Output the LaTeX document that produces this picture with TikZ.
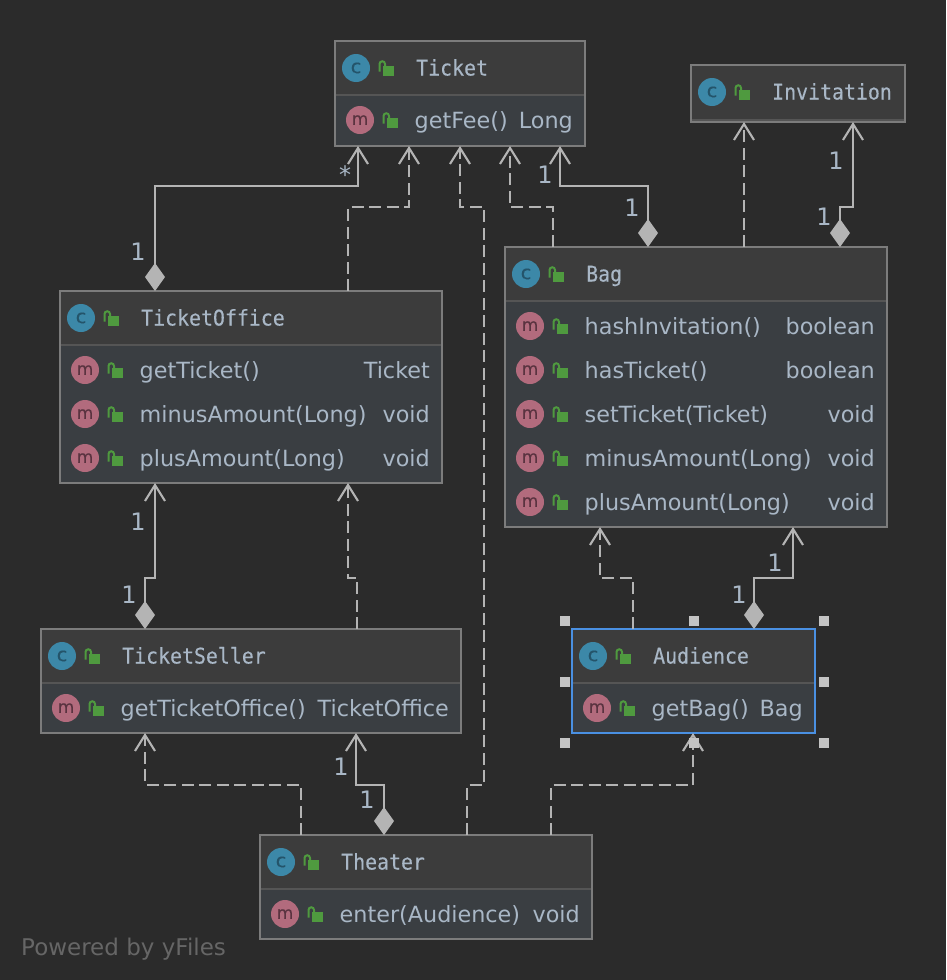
\documentclass[tikz,border=0pt]{standalone}
\usepackage{fontspec}
\setmainfont{DejaVu Sans}
\newfontfamily\titlefont[FakeBold=0.25,FakeStretch=0.92]{DejaVu Sans Mono}
\newfontfamily\iconfont[FakeBold=0.3]{DejaVu Sans}
\usetikzlibrary{arrows.meta}
\definecolor{bgc}{HTML}{2B2B2B}
\definecolor{headc}{HTML}{3C3C3C}
\definecolor{bodyc}{HTML}{3A3E42}
\definecolor{borderc}{HTML}{7C7C7C}
\definecolor{divc}{HTML}{555555}
\definecolor{textc}{HTML}{A9B7C6}
\definecolor{linec}{HTML}{B4B4B4}
\definecolor{classc}{HTML}{3C88A8}
\definecolor{classt}{HTML}{24546A}
\definecolor{methc}{HTML}{B26B7D}
\definecolor{metht}{HTML}{5A3340}
\definecolor{lockc}{HTML}{4F9A3F}
\definecolor{selc}{HTML}{4A90E2}
\definecolor{markc}{HTML}{666666}
\definecolor{handc}{HTML}{C4C4C4}
\tikzset{
  x=1pt,y=-1pt,
  boxbody/.style={rectangle,anchor=north west,inner sep=0pt,outer sep=0pt,fill=bodyc},
  titletxt/.style={anchor=base west,inner sep=0pt,text=textc,font=\titlefont\fontsize{21.6}{24}\selectfont},
  sigtxt/.style={anchor=base west,inner sep=0pt,text=textc,font=\fontsize{22.3}{26}\selectfont},
  rettxt/.style={anchor=base east,inner sep=0pt,text=textc,font=\fontsize{22.3}{26}\selectfont},
  cicon/.style={circle,fill=classc,text=classt,minimum size=28pt,inner sep=0pt,font=\iconfont\fontsize{19}{19}\selectfont},
  micon/.style={circle,fill=methc,text=metht,minimum size=28pt,inner sep=0pt,font=\iconfont\fontsize{17}{17}\selectfont},
  conn/.style={draw=linec,line width=2.1pt},
  dep/.style={conn,dash pattern=on 12pt off 5.5pt,-{Straight Barb[length=16pt,width=20pt,line width=2.1pt]}},
  comp/.style={conn,{Diamond[length=28pt,width=20pt,fill=linec]}-{Straight Barb[length=16pt,width=20pt,line width=2.1pt]}},
  mult/.style={inner sep=0pt,text=textc,font=\fontsize{24}{26}\selectfont},
  handle/.style={rectangle,fill=handc,minimum size=10.5pt,inner sep=0pt},
}
\newcommand{\lockat}[2]{%
  \fill[lockc] (#1+27,#2-2) rectangle (#1+38,#2+8);
  \draw[lockc,line width=2pt] (#1+23.5,#2+3.5) -- (#1+23.5,#2-4) arc[start angle=180,end angle=360,radius=2.75] -- (#1+29,#2-2);
}
% name, x, y, w, h, header height, title
\newcommand{\umlbox}[7]{%
  \node[boxbody,minimum width=#4pt,minimum height=#5pt] (#1) at (#2,#3) {};
  \fill[headc] (#1.north west) rectangle (#2+#4,#3+#6);
  \draw[divc,line width=2pt] (#2,#3+#6) -- (#2+#4,#3+#6);
  \node[cicon] (#1-icon) at (#2+21,#3+27) {c};
  \lockat{#2+21}{#3+27}
  \node[titletxt] (#1-title) at (#2+81,#3+34.5) {#7};
  \draw[borderc,line width=2pt] (#1.north west) rectangle (#1.south east);
}
% id, x, w, cy, signature, return
\newcommand{\umlmember}[6]{%
  \node[micon] (#1-icon) at (#2+25,#4) {m};
  \lockat{#2+25}{#4}
  \node[sigtxt] (#1-sig) at (#2+79.5,#4+8) {#5};
  \node[rettxt] (#1-ret) at (#2+#3-12,#4+8) {#6};
}
\begin{document}
\begin{tikzpicture}
\fill[bgc] (0,0) rectangle (946,980);
\useasboundingbox (0,0) rectangle (946,980);

\umlbox{ticket}{335}{41}{250}{105}{54}{Ticket}
\umlmember{m1}{335}{250}{120}{getFee()}{Long}

\umlbox{invitation}{691}{65}{214}{57}{55}{Invitation}

\umlbox{office}{60}{291}{382}{192}{54}{TicketOffice}
\umlmember{m2}{60}{382}{370}{getTicket()}{Ticket}
\umlmember{m3}{60}{382}{414}{minusAmount(Long)}{void}
\umlmember{m4}{60}{382}{458}{plusAmount(Long)}{void}

\umlbox{bag}{505}{247}{382}{280}{54}{Bag}
\umlmember{m5}{505}{382}{326}{hashInvitation()}{boolean}
\umlmember{m6}{505}{382}{370}{hasTicket()}{boolean}
\umlmember{m7}{505}{382}{414}{setTicket(Ticket)}{void}
\umlmember{m8}{505}{382}{458}{minusAmount(Long)}{void}
\umlmember{m9}{505}{382}{502}{plusAmount(Long)}{void}

\umlbox{seller}{41}{629}{420}{104}{54}{TicketSeller}
\umlmember{m10}{41}{420}{708}{getTicketOffice()}{TicketOffice}

\umlbox{audience}{572}{629}{243}{104}{54}{Audience}
\umlmember{m11}{572}{243}{708}{getBag()}{Bag}
\draw[selc,line width=2pt] (audience.north west) rectangle (audience.south east);

\umlbox{theater}{260}{835}{332}{104}{54}{Theater}
\umlmember{m12}{260}{332}{914}{enter(Audience)}{void}

% connectors
\draw[comp] ([xshift=95pt]office.north west) -- ++(0,-105) -- ++(203,0) -- ([xshift=23pt]ticket.south west);
\draw[dep] ([xshift=288pt]office.north west) -- ++(0,-84) -- ++(61,0) -- ([xshift=74pt]ticket.south west);
\draw[dep] ([xshift=207pt]theater.north west) -- ++(0,-50) -- ++(17,0) -- ++(0,-578) -- ++(-24,0) -- ([xshift=125pt]ticket.south west);
\draw[dep] ([xshift=48pt]bag.north west) -- ++(0,-40) -- ++(-43,0) -- ([xshift=175pt]ticket.south west);
\draw[comp] ([xshift=143pt]bag.north west) -- ++(0,-61) -- ++(-88,0) -- ([xshift=225pt]ticket.south west);
\draw[dep] ([xshift=239pt]bag.north west) -- ([xshift=53pt]invitation.south west);
\draw[comp] ([xshift=335pt]bag.north west) -- ++(0,-40) -- ++(13,0) -- ([xshift=162pt]invitation.south west);
\draw[comp] ([xshift=104pt]seller.north west) -- ++(0,-51) -- ++(10,0) -- ([xshift=95pt]office.south west);
\draw[dep] ([xshift=316pt]seller.north west) -- ++(0,-51) -- ++(-9,0) -- ([xshift=288pt]office.south west);
\draw[dep] ([xshift=41pt]theater.north west) -- ++(0,-50) -- ++(-156,0) -- ([xshift=104pt]seller.south west);
\draw[comp] ([xshift=124pt]theater.north west) -- ++(0,-50) -- ++(-28,0) -- ([xshift=315pt]seller.south west);
\draw[dep] ([xshift=291pt]theater.north west) -- ++(0,-50) -- ++(142,0) -- ([xshift=121pt]audience.south west);
\draw[dep] ([xshift=61pt]audience.north west) -- ++(0,-51) -- ++(-33,0) -- ([xshift=95pt]bag.south west);
\draw[comp] ([xshift=182pt]audience.north west) -- ++(0,-51) -- ++(39,0) -- ([xshift=288pt]bag.south west);

% multiplicities
\node[mult] (l1) at (138,252) {1};
\node[mult] (l2) at (345,175) {*};
\node[mult] (l3) at (545,175) {1};
\node[mult] (l4) at (632,208) {1};
\node[mult] (l5) at (836,161) {1};
\node[mult] (l6) at (824,217) {1};
\node[mult] (l7) at (138,522) {1};
\node[mult] (l8) at (129,595) {1};
\node[mult] (l9) at (341,767) {1};
\node[mult] (l10) at (367,800) {1};
\node[mult] (l11) at (775,563) {1};
\node[mult] (l12) at (739,595) {1};

% selection handles
\foreach \hx/\hy/\hn in {565/621/a,694/621/b,824/621/c,565/682/d,824/682/e,565/743/f,694/743/g,824/743/h}
  \node[handle] (h\hn) at (\hx,\hy) {};

\node[anchor=base west,inner sep=0pt,text=markc,font=\fontsize{23}{26}\selectfont] (powered) at (21,955.5) {Powered by yFiles};
\end{tikzpicture}
\end{document}
